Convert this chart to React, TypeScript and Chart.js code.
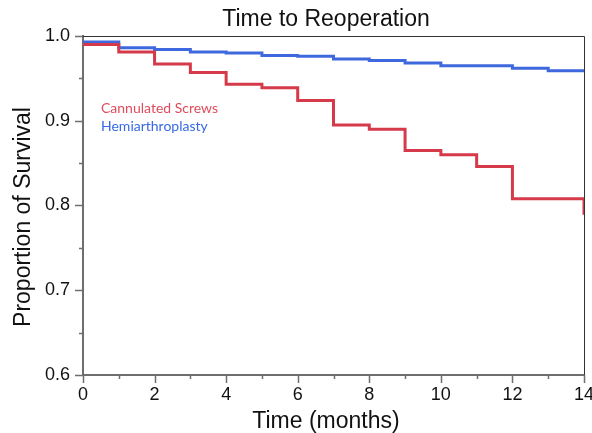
import React, { useEffect, useRef } from 'react';
import { Chart, registerables } from 'chart.js';
Chart.register(...registerables);

const months = [0, 1, 2, 3, 4, 5, 6, 7, 8, 9, 10, 11, 12, 13, 14];
const screwsSurvival = [0.990, 0.981, 0.967, 0.957, 0.943, 0.939, 0.924, 0.895, 0.890, 0.865, 0.860, 0.846, 0.808, 0.808, 0.789];
const hemiSurvival = [0.993, 0.986, 0.984, 0.981, 0.980, 0.977, 0.976, 0.973, 0.971, 0.968, 0.965, 0.965, 0.962, 0.959, 0.959];
const seriesNames = ['Cannulated Screws', 'Hemiarthroplasty'];
const chartTitle = 'Time to Reoperation';
const xTitle = 'Time (months)';
const yTitle = 'Proportion of Survival';

const RED = 'rgb(214,58,74)';
const BLUE = 'rgb(62,104,222)';
const FONT = '"Liberation Sans", Arial, sans-serif';

const decorPlugin = {
  id: 'decor',
  afterDraw(chart: any) {
    const { ctx, chartArea, scales } = chart;
    const xs = scales.x;
    const ys = scales.y;
    ctx.save();
    ctx.strokeStyle = '#333';
    ctx.lineWidth = 1;
    ctx.beginPath();
    ctx.moveTo(chartArea.left, chartArea.top + 0.5);
    ctx.lineTo(chartArea.right + 0.5, chartArea.top + 0.5);
    ctx.lineTo(chartArea.right + 0.5, chartArea.bottom);
    ctx.stroke();
    ctx.strokeStyle = '#6e6e6e';
    ctx.lineWidth = 1.5;
    ctx.beginPath();
    xs.ticks.forEach((t: any) => {
      const px = Math.round(xs.getPixelForValue(t.value)) + 0.5;
      const major = Math.round(t.value) % 2 === 0;
      ctx.moveTo(px, chartArea.bottom);
      ctx.lineTo(px, chartArea.bottom + (major ? 8 : 4));
    });
    ys.ticks.forEach((t: any) => {
      const py = Math.round(ys.getPixelForValue(t.value)) + 0.5;
      const major = Math.abs(Math.round(t.value * 10) - t.value * 10) < 1e-6;
      ctx.moveTo(chartArea.left, py);
      ctx.lineTo(chartArea.left - (major ? 8 : 4), py);
    });
    ctx.stroke();
    ctx.fillStyle = '#111';
    ctx.textAlign = 'center';
    ctx.textBaseline = 'alphabetic';
    ctx.font = `23px ${FONT}`;
    ctx.fillText(chartTitle, 326, 25.5);
    ctx.fillText(xTitle, 326, 428);
    ctx.save();
    ctx.translate(30, 217);
    ctx.rotate(-Math.PI / 2);
    ctx.fillText(yTitle, 0, 0);
    ctx.restore();
    ctx.textAlign = 'left';
    ctx.font = `14px Lato, "Open Sans", sans-serif`;
    ctx.fillStyle = 'rgb(224,76,92)';
    ctx.fillText(seriesNames[0], 101, 112.5);
    ctx.fillStyle = 'rgb(55,105,228)';
    ctx.fillText(seriesNames[1], 101, 131);
    ctx.restore();
  },
};

export default function App() {
  const ref = useRef<HTMLCanvasElement>(null);
  useEffect(() => {
    if (!ref.current) return;
    const chart = new Chart(ref.current, {
      type: 'line',
      data: {
        datasets: [
          {
            label: seriesNames[0],
            data: months.map((m, i) => ({ x: m, y: screwsSurvival[i] })),
            borderColor: RED,
            borderWidth: 3,
            stepped: 'before',
            pointRadius: 0,
            fill: false,
          },
          {
            label: seriesNames[1],
            data: months.map((m, i) => ({ x: m, y: hemiSurvival[i] })),
            borderColor: BLUE,
            borderWidth: 3,
            stepped: 'before',
            pointRadius: 0,
            fill: false,
          },
        ],
      },
      options: {
        responsive: false,
        animation: false,
        layout: { padding: { left: 0, top: 36, right: 8, bottom: 0 } },
        plugins: { legend: { display: false }, tooltip: { enabled: false }, title: { display: false } },
        scales: {
          x: {
            type: 'linear',
            min: 0,
            max: 14,
            afterFit: (s: any) => { s.height = 58; s.paddingRight = 0; s.paddingLeft = 0; },
            grid: { display: false, drawTicks: false },
            border: { display: true, color: '#6e6e6e', width: 2 },
            ticks: {
              stepSize: 1,
              padding: 9,
              color: '#111',
              font: { family: FONT, size: 18 },
              maxRotation: 0,
              autoSkip: false,
              callback: (v: any) => (Math.round(v) % 2 === 0 ? String(v) : ''),
            },
          },
          y: {
            min: 0.6,
            max: 1.0,
            afterFit: (s: any) => { s.width = 83; s.paddingTop = 0; s.paddingBottom = 0; },
            grid: { display: false, drawTicks: false },
            border: { display: true, color: '#6e6e6e', width: 2 },
            ticks: {
              stepSize: 0.05,
              padding: 13,
              color: '#111',
              font: { family: FONT, size: 18 },
              autoSkip: false,
              callback: (v: any) => {
                const n = Number(v);
                return Math.abs(Math.round(n * 10) - n * 10) < 1e-6 ? n.toFixed(1) : '';
              },
            },
          },
        },
      },
      plugins: [decorPlugin],
    });
    return () => chart.destroy();
  }, []);
  return (
    <div style={{ position: 'absolute', left: 0, top: 0, width: 592, height: 433, background: '#fff' }}>
      <canvas ref={ref} width={592} height={433} />
    </div>
  );
}
